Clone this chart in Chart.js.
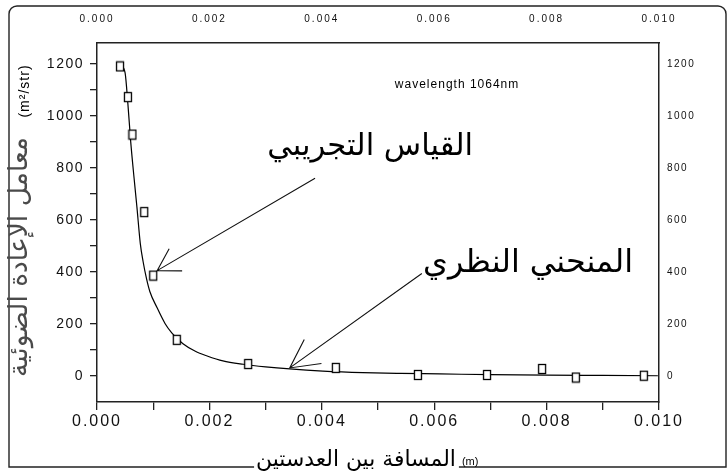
<!DOCTYPE html>
<html lang="ar">
<head>
<meta charset="UTF-8">
<title>معامل الإعادة الضوئية</title>
<script src="https://cdn.jsdelivr.net/npm/chart.js"></script>
<style>
  html, body { margin: 0; padding: 0; background: #fff; }
  #grafico { display: block; }
</style>
</head>
<body>
<canvas id="grafico" width="728" height="475"></canvas>
<script>
// pontos medidos (quadrados)
const distanciaMedida = [0.00041, 0.00055, 0.00063, 0.00084, 0.00100, 0.00142, 0.00269, 0.00425, 0.00571, 0.00694, 0.00792, 0.00852, 0.00973];
const coeficienteMedido = [1190, 1072, 928, 630, 386, 139, 46, 31, 4, 4, 27, -6, 1];

// curva teorica
const distanciaTeorica = [0.00043, 0.00050, 0.00055, 0.00060, 0.00066, 0.00071, 0.00077, 0.00082, 0.00088, 0.00094, 0.00107, 0.00121, 0.00133, 0.00153, 0.00175, 0.00196, 0.00224, 0.00260, 0.00300, 0.00343, 0.00402, 0.00473, 0.00540, 0.00610, 0.00700, 0.00800, 0.00900, 0.00998];
const coeficienteTeorico = [1195, 1165, 1045, 900, 760, 650, 510, 440, 375, 325, 262, 202, 166, 124, 95, 77, 58, 45, 35, 27, 19, 13, 10, 8, 5, 3, 2, 1];

// marcas dos eixos
const marcasX = [0, 0.001, 0.002, 0.003, 0.004, 0.005, 0.006, 0.007, 0.008, 0.009, 0.010];
const rotulosXTopo = [0, 0.002, 0.004, 0.006, 0.008, 0.010];
const marcasY = [0, 100, 200, 300, 400, 500, 600, 700, 800, 900, 1000, 1100, 1200];
const rotulosYDireita = [0, 200, 400, 600, 800, 1000, 1200];

// textos
const tituloX = 'المسافة بين العدستين';
const unidadeX = '(m)';
const tituloY = 'معامل الإعادة الضوئية';
const unidadeY = '(m²/str)';
const notaOnda = 'wavelength 1064nm';
const rotuloExperimental = 'القياس التجريبي';
const rotuloTeorico = 'المنحني النظري';

// setas e rotulos em coordenadas dos dados
const setas = [
  { de: [0.00388, 760], para: [0.00107, 405], ponta: 25, abertura: 0.54 },
  { de: [0.00578, 394], para: [0.00343, 31], ponta: 32, abertura: 0.48 }
];

const arabe = '"DejaVu Sans", "Noto Sans", sans-serif';
const latina = '"Liberation Sans", Arial, sans-serif';

const espacamento = { x: '2px', x2: '2px', y: '1.5px', y2: '1.5px' };

// quadrado vazado usado como marcador
const quadrado = document.createElement('canvas');
quadrado.width = 10;
quadrado.height = 12;
(function () {
  const c = quadrado.getContext('2d');
  c.fillStyle = '#fff';
  c.fillRect(1, 1, 8, 10);
  c.strokeStyle = '#000';
  c.lineWidth = 1.3;
  c.strokeRect(1.5, 1.5, 7, 9);
})();

function tamanhoPara(ctx, texto, familia, largura) {
  ctx.save();
  ctx.letterSpacing = '0px';
  ctx.font = '20px ' + familia;
  const w = ctx.measureText(texto).width;
  ctx.restore();
  return 20 * largura / w;
}

const desenhos = {
  id: 'desenhos',
  beforeDraw(chart) {
    const ctx = chart.ctx;
    ctx.save();
    ctx.fillStyle = '#fff';
    ctx.fillRect(0, 0, chart.width, chart.height);
    ctx.restore();
  },
  afterUpdate(chart) {
    Object.values(chart.scales).forEach(function (s) {
      if (s._espacado) return;
      const original = s.drawLabels;
      s.drawLabels = function (area) {
        const c = this.ctx;
        c.save();
        c.letterSpacing = espacamento[this.id] || '0px';
        original.call(this, area);
        c.restore();
      };
      s._espacado = true;
    });
  },
  afterDatasetsDraw(chart) {
    const ctx = chart.ctx;
    const sx = chart.scales.x, sy = chart.scales.y;
    ctx.save();
    ctx.strokeStyle = '#111';
    ctx.lineWidth = 1.1;
    setas.forEach(function (s) {
      const x0 = sx.getPixelForValue(s.de[0]), y0 = sy.getPixelForValue(s.de[1]);
      const x1 = sx.getPixelForValue(s.para[0]), y1 = sy.getPixelForValue(s.para[1]);
      const ang = Math.atan2(y0 - y1, x0 - x1);
      ctx.beginPath();
      ctx.moveTo(x0, y0);
      ctx.lineTo(x1, y1);
      ctx.moveTo(x1 + s.ponta * Math.cos(ang - s.abertura), y1 + s.ponta * Math.sin(ang - s.abertura));
      ctx.lineTo(x1, y1);
      ctx.lineTo(x1 + s.ponta * Math.cos(ang + s.abertura), y1 + s.ponta * Math.sin(ang + s.abertura));
      ctx.stroke();
    });

    // rotulos arabes dentro do grafico
    ctx.fillStyle = '#000';
    ctx.textAlign = 'center';
    ctx.textBaseline = 'middle';
    let t = tamanhoPara(ctx, rotuloExperimental, arabe, 206);
    ctx.font = t + 'px ' + arabe;
    ctx.fillText(rotuloExperimental, sx.getPixelForValue(0.00486), sy.getPixelForValue(880));
    t = tamanhoPara(ctx, rotuloTeorico, arabe, 210);
    ctx.font = t + 'px ' + arabe;
    ctx.fillText(rotuloTeorico, sx.getPixelForValue(0.00767), sy.getPixelForValue(430));

    ctx.textAlign = 'left';
    ctx.letterSpacing = '1px';
    ctx.font = '12px ' + latina;
    ctx.fillText(notaOnda, sx.getPixelForValue(0.00530), sy.getPixelForValue(1119));
    ctx.restore();
  },
  afterDraw(chart) {
    const ctx = chart.ctx;
    ctx.save();
    ctx.strokeStyle = '#222';
    ctx.lineWidth = 1.4;

    // titulo do eixo x sobre a linha de baixo da moldura
    const base = 467;
    const tx = tamanhoPara(ctx, tituloX, arabe, 200);
    ctx.font = tx + 'px ' + arabe;
    const wx = ctx.measureText(tituloX).width;
    const ini = 356 - wx / 2;

    // moldura
    ctx.beginPath();
    ctx.moveTo(ini - 2, base);
    ctx.lineTo(9, base);
    ctx.lineTo(9, 14);
    ctx.arcTo(9, 6, 17, 6, 8);
    ctx.lineTo(718, 6);
    ctx.arcTo(726, 6, 726, 14, 8);
    ctx.lineTo(726, base);
    ctx.lineTo(ini + wx + 3, base);
    ctx.stroke();

    ctx.fillStyle = '#000';
    ctx.textBaseline = 'alphabetic';
    ctx.textAlign = 'left';
    ctx.font = tx + 'px ' + arabe;
    ctx.fillText(tituloX, ini, base - 1);
    ctx.font = '11px ' + latina;
    ctx.fillText(unidadeX, ini + wx + 6, base - 2);

    // titulo do eixo y (girado)
    ctx.translate(22, 0);
    ctx.rotate(-Math.PI / 2);
    ctx.textBaseline = 'middle';
    ctx.textAlign = 'center';
    const ty = tamanhoPara(ctx, tituloY, arabe, 240);
    ctx.font = ty + 'px ' + arabe;
    ctx.fillStyle = '#4a4a4a';
    ctx.fillText(tituloY, -257, -2);
    ctx.fillStyle = '#000';
    ctx.letterSpacing = '1px';
    ctx.font = '14px ' + latina;
    ctx.fillText(unidadeY, -91, 3);
    ctx.restore();
  }
};

function listaMarcas(valores) {
  return function (escala) {
    escala.ticks = valores.map(v => ({ value: v }));
  };
}

const corEixo = '#222';

new Chart(document.getElementById('grafico'), {
  type: 'scatter',
  data: {
    datasets: [
      {
        label: 'teorico',
        data: distanciaTeorica.map((x, i) => ({ x: x, y: coeficienteTeorico[i] })),
        showLine: true,
        borderColor: '#000',
        borderWidth: 1.2,
        pointRadius: 0,
        cubicInterpolationMode: 'monotone',
        order: 2
      },
      {
        label: 'medido',
        data: distanciaMedida.map((x, i) => ({ x: x, y: coeficienteMedido[i] })),
        showLine: false,
        pointStyle: quadrado,
        pointRadius: 5,
        order: 1
      }
    ]
  },
  options: {
    responsive: false,
    animation: false,
    devicePixelRatio: 1,
    layout: { padding: 0 },
    plugins: { legend: { display: false }, tooltip: { enabled: false } },
    scales: {
      x: {
        type: 'linear', position: 'bottom', min: 0, max: 0.010, display: true,
        afterBuildTicks: listaMarcas(marcasX),
        afterFit: s => { s.height = 73; },
        ticks: {
          autoSkip: false, maxRotation: 0, color: '#111', padding: 2,
          font: { family: latina, size: 16 },
          callback: v => (Math.round(v * 1000) % 2 === 0 ? v.toFixed(3) : '')
        },
        grid: { drawOnChartArea: false, drawTicks: true, tickLength: 8, color: corEixo, lineWidth: 1.3 },
        border: { display: true, color: corEixo, width: 1.5 }
      },
      x2: {
        type: 'linear', position: 'top', min: 0, max: 0.010, display: true,
        afterBuildTicks: listaMarcas(rotulosXTopo),
        afterFit: s => { s.height = 43; },
        ticks: {
          autoSkip: false, maxRotation: 0, color: '#111', padding: 18,
          font: { family: latina, size: 10 },
          callback: v => v.toFixed(3)
        },
        grid: { drawOnChartArea: false, drawTicks: false },
        border: { display: true, color: corEixo, width: 1.5 }
      },
      y: {
        type: 'linear', position: 'left', min: -100, max: 1280, display: true,
        afterBuildTicks: listaMarcas(marcasY),
        afterFit: s => { s.width = 97; },
        ticks: {
          autoSkip: false, color: '#111', padding: 6,
          font: { family: latina, size: 14 },
          callback: v => (v % 200 === 0 ? String(v) : '')
        },
        grid: { drawOnChartArea: false, drawTicks: true, tickLength: 7, color: corEixo, lineWidth: 1.3 },
        border: { display: true, color: corEixo, width: 1.5 }
      },
      y2: {
        type: 'linear', position: 'right', min: -100, max: 1280, display: true,
        afterBuildTicks: listaMarcas(rotulosYDireita),
        afterFit: s => { s.width = 69; },
        ticks: {
          autoSkip: false, color: '#111', padding: 8,
          font: { family: latina, size: 10 },
          callback: v => String(v)
        },
        grid: { drawOnChartArea: false, drawTicks: false },
        border: { display: true, color: corEixo, width: 1.5 }
      }
    }
  },
  plugins: [desenhos]
});
</script>
</body>
</html>
